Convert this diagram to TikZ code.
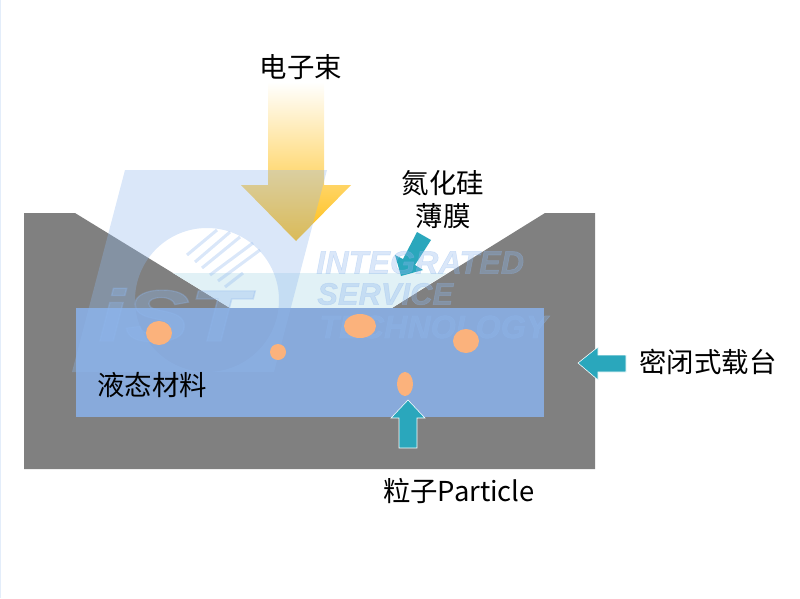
\documentclass[tikz,border=0pt]{standalone}
\usepackage{fontspec}
\newfontfamily\cjkfont{Noto Sans CJK SC}
\newfontfamily\markfont[BoldItalicFeatures={FakeBold=1.6}]{Liberation Sans}
\definecolor{stagegray}{HTML}{808080}
\definecolor{liquidblue}{HTML}{88AADB}
\definecolor{filmtint}{HTML}{E1F1F6}
\definecolor{arrowteal}{HTML}{2AA7BC}
\definecolor{particleorange}{HTML}{FBB27C}
\definecolor{beamgold}{HTML}{FFBD10}
\definecolor{markblue}{HTML}{8FB7ED}
\tikzset{
	labeltext/.style={font=\cjkfont\fontsize{19.5}{23.5}\selectfont, text=black, inner sep=0pt}
}
\tikzset{
	particle/.style={fill=particleorange, draw=none}
}
\tikzset{
	tealarrow/.style={fill=arrowteal, draw=white, line width=0.4pt, line join=miter}
}
\tikzset{
	markfill/.style={fill=markblue, draw=none, opacity=0.33}
}
\tikzset{
	marktext/.style={font=\markfont\bfseries\itshape\fontsize{23}{23}\selectfont, text=markblue, text opacity=0.33, anchor=west, inner sep=0pt}
}

\begin{document}
\begin{tikzpicture}[x=0.025cm,y=-0.025cm]
	\useasboundingbox (0,0) rectangle (800,598);
	\fill[markblue!25] (0,0) rectangle (1.5,598);
	% stage and film
	\fill[stagegray] (24,213) -- (75,213) -- (230,308) -- (392,308) -- (545,213) -- (595,213) -- (595,469) -- (24,469) -- cycle;
	\fill[filmtint] (173,273) -- (447,273) -- (392,308) -- (230,308) -- cycle;
	% liquid
	\fill[liquidblue] (76,308) rectangle (544,417);
	% beam
	\shade[top color=white, bottom color=beamgold] (268,82) -- (324,82) -- (324,185) -- (351,185) -- (296,241) -- (241,185) -- (268,185) -- cycle;
	% arrows
	\fill[arrowteal] (417,232) -- (431,240) -- (415,265) -- (423,270) -- (401,276) -- (395,255) -- (403,259) -- cycle;
	\draw[tealarrow] (399,448) -- (399,418) -- (391,418) -- (408,400) -- (425,418) -- (417,418) -- (417,448) -- cycle;
	\draw[tealarrow] (626,355) -- (598,355) -- (598,347) -- (578,363) -- (598,380) -- (598,372) -- (626,372) -- cycle;
	% watermark
	\fill[markfill, even odd rule] (125,170) -- (327,170) -- (274,372) -- (72,372) -- cycle (207,300) circle (72);
	\foreach \xa/\ya/\xb/\yb in {187/255/217/230, 195/262/230/232, 202/268/240/237, 210/275/253/243, 218/281/260/250, 225/287/243/273}
		\draw[markblue, opacity=0.33, line width=2.2pt] (\xa,\ya) -- (\xb,\yb);
	\node[marktext] (markist) at (98,315) {\fontsize{52}{52}\selectfont\scalebox{1.32}[1]{iST}};
	\node[marktext] (markinteg) at (316,262.5) {INTEGRATED};
	\node[marktext] (markserv) at (317,294) {\fontsize{22}{22}\selectfont SERVICE};
	\node[marktext] (marktech) at (319,327) {TECHNOLOGY};
	% particles
	\foreach \x/\y/\rx/\ry in {159/333/13/12, 278/352/8/8, 360/326/16/12, 466/341/13/12, 405/384/8/12}
		\fill[particle] (\x,\y) ellipse [x radius=\rx, y radius=\ry];
	% labels
	\node[labeltext] (beamlabel) at (301,67) {电子束};
	\node[labeltext, align=center] (filmlabel) at (443,199.5) {氮化硅\\薄膜};
	\node[labeltext] (liquidlabel) at (152,385) {液态材料};
	\node[labeltext] (stagelabel) at (708,362) {密闭式载台};
	\node[labeltext] (particlelabel) at (459,491) {粒子Particle};
\end{tikzpicture}
\end{document}
